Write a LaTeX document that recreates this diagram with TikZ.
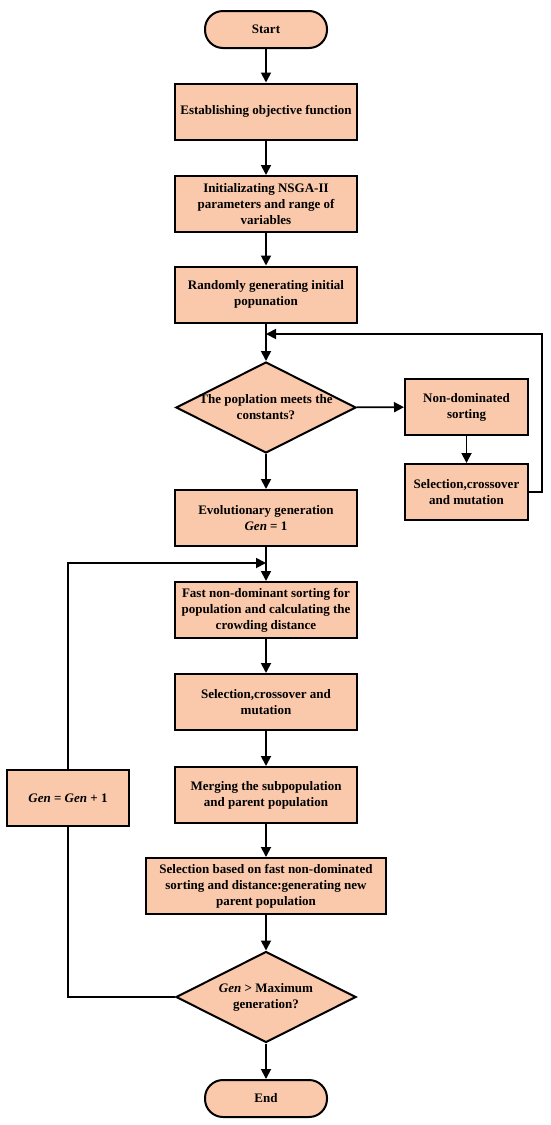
\documentclass[tikz,border=0pt]{standalone}
\usepackage{fontspec}
\setmainfont{Liberation Serif}
\usetikzlibrary{shapes.geometric,arrows.meta}
\definecolor{peach}{RGB}{250,200,170}

\begin{document}
\begin{tikzpicture}[x=1pt,y=1pt,
  every node/.style={font=\bfseries\fontsize{13}{16}\selectfont,align=center},
  process/.style={draw,line width=2pt,fill=peach,minimum width=182pt,minimum height=56pt,inner sep=2pt},
  terminal/.style={draw,line width=2pt,fill=peach,rounded corners=18pt,minimum width=122pt,minimum height=37pt},
  decision/.style={draw,line width=2pt,fill=peach,shape=diamond,minimum width=180pt,minimum height=91pt,inner sep=0pt},
  flow/.style={line width=1.8pt,-{Triangle[length=10pt,width=10pt]}},
  link/.style={line width=1.8pt}]

  \useasboundingbox (0,0) rectangle (550,-1125);

  % Specification of nodes (position, etc.)
  \node[terminal] (start) at (266,-29.5) {Start};
  \node[process] (obj) at (266,-111.5) {Establishing objective function};
  \node[process] (init) at (266,-204) {Initializating NSGA-II\\ parameters and range of\\ variables};
  \node[process] (rand) at (266,-294.5) {Randomly generating initial\\ popunation};
  \node[decision] (cons) at (266,-407.5) {};
  \node at (cons) {The poplation meets the\\ constants?};
  \node[process,minimum width=123pt] (nds) at (466.5,-407) {Non-dominated\\ sorting};
  \node[process,minimum width=123pt] (scm1) at (466.5,-492) {Selection,crossover\\ and mutation};
  \node[process] (evo) at (266,-518) {Evolutionary generation\\ \textit{Gen} = 1};
  \node[process] (fast) at (266,-610) {Fast non-dominant sorting for\\ population and calculating the\\ crowding distance};
  \node[process] (scm2) at (266,-702) {Selection,crossover and\\ mutation};
  \node[process] (merge) at (266,-795) {Merging the subpopulation\\ and parent population};
  \node[process,minimum width=240pt] (sel) at (266,-886) {Selection based on fast non-dominated\\ sorting and distance:generating new\\ parent population};
  \node[decision] (maxgen) at (266,-997) {};
  \node at (maxgen) {\textit{Gen} > Maximum\\ generation?};
  \node[terminal] (end) at (266,-1098.5) {End};
  \node[process,minimum width=122pt] (inc) at (68,-798) {\textit{Gen} = \textit{Gen} + 1};

  \coordinate (j1) at (266,-334);
  \coordinate (c1) at (542,-334);
  \coordinate (j2) at (266,-563);

  \begin{scope}
    \draw[flow] (start) -- (obj);
    \draw[flow] (obj) -- (init);
    \draw[flow] (init) -- (rand);
    \draw[flow] (rand) -- (cons);
    \draw[flow] (cons) -- (nds);
    \draw[flow] (nds) -- (scm1);
    \draw[flow] (scm1.east) -| (c1) -- (j1);
    \draw[flow] (cons) -- (evo);
    \draw[flow] (evo) -- (fast);
    \draw[flow] (fast) -- (scm2);
    \draw[flow] (scm2) -- (merge);
    \draw[flow] (merge) -- (sel);
    \draw[flow] (sel) -- (maxgen);
    \draw[flow] (maxgen) -- (end);
    \draw[link] (maxgen.west) -| (inc.south);
    \draw[flow] (inc.north) |- (j2);
  \end{scope}

\end{tikzpicture}
\end{document}
